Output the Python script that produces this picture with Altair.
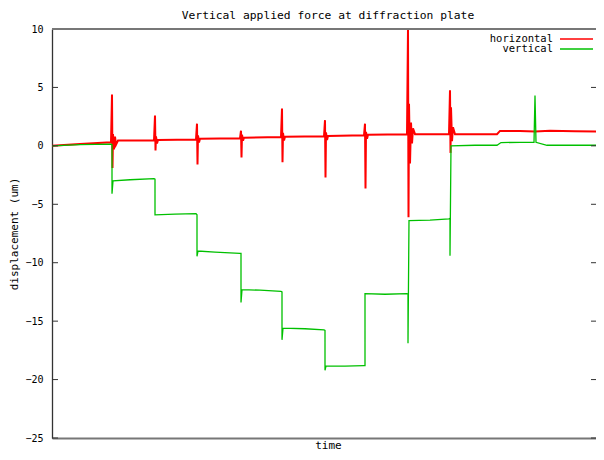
import altair as alt
import pandas as pd

# ---- data (time in arbitrary units, displacement in um) ----
series_names = ["horizontal", "vertical"]
series_colors = ["#ff0000", "#00c000"]

horiz_t = [0, 28, 59,
           60, 60.5, 61, 62, 63, 64, 66,
           102, 103, 103.5, 104, 105, 106,
           144, 145, 145.5, 146, 147, 148,
           188, 189, 189.5, 190, 191, 192,
           229, 230, 230.5, 231, 232, 233,
           272, 273, 273.5, 274, 275, 276,
           312, 313, 313.5, 314, 315, 316,
           355, 356, 356.5, 357, 358, 359, 360, 361, 363,
           397, 398, 398.5, 399, 400, 401, 403,
           445, 448, 468, 483, 498, 523, 553]
horiz_v = [0.0, 0.15, 0.3,
           4.4, -1.9, 1.0, -0.3, 0.8, 0.1, 0.45,
           0.45, 2.6, -0.4, 0.8, 0.2, 0.5,
           0.55, 1.9, -1.6, 0.9, 0.3, 0.6,
           0.65, 1.3, -1.0, 0.95, 0.45, 0.7,
           0.75, 3.2, -1.4, 1.1, 0.45, 0.78,
           0.82, 2.2, -2.7, 1.15, 0.5, 0.85,
           0.9, 1.9, -3.65, 1.2, 0.6, 0.95,
           1.0, 10.0, -6.1, 3.6, -1.5, 2.0, 0.2, 1.5, 1.0,
           1.0, 4.75, -0.6, 3.3, 0.4, 1.6, 1.0,
           1.0, 1.28, 1.28, 1.22, 1.3, 1.25, 1.22]

vert_t = [0, 28, 59, 60, 60, 61, 78, 102,
          103, 103, 123, 144,
          145, 145, 146, 163, 188,
          189, 189, 190, 208, 229,
          230, 230, 231, 253, 272,
          273, 273, 274, 293, 312,
          313, 313, 333, 355,
          356, 356, 357, 378, 397,
          398, 398, 399, 423, 445,
          449, 468, 482, 483, 484, 495, 553]
vert_v = [0.0, 0.1, 0.15, 0.1, -4.1, -3.0, -2.9, -2.8,
          -2.85, -5.9, -5.85, -5.8,
          -5.9, -9.45, -9.0, -9.1, -9.2,
          -9.2, -13.4, -12.3, -12.35, -12.45,
          -12.5, -16.6, -15.6, -15.65, -15.75,
          -15.8, -19.2, -18.85, -18.85, -18.8,
          -18.8, -12.65, -12.7, -12.65,
          -12.7, -16.9, -6.4, -6.35, -6.25,
          -6.2, -9.4, 0.0, 0.05, 0.05,
          0.28, 0.3, 0.3, 4.3, 0.3, 0.05, 0.05]

y_ticks = [-25, -20, -15, -10, -5, 0, 5, 10]

FONT = "DejaVu Sans Mono"
W, H = 544, 409

h_df = pd.DataFrame({"t": horiz_t, "value": horiz_v, "series": series_names[0]})
h_df["idx"] = range(len(h_df))
v_df = pd.DataFrame({"t": vert_t, "value": vert_v, "series": series_names[1]})
v_df["idx"] = range(len(v_df))

xscale = alt.Scale(domain=[0, W], nice=False, zero=False)
yscale = alt.Scale(domain=[-25, 10], nice=False, zero=False)
cscale = alt.Scale(domain=series_names, range=series_colors)

x_enc = alt.X("t:Q", scale=xscale,
              axis=alt.Axis(title="time", ticks=False, labels=False, grid=False,
                            domainColor="#777", domainWidth=2,
                            titleFont=FONT, titleFontSize=11, titleFontWeight="normal",
                            titleColor="#000", titlePadding=1,
                            titleX=276, titleAnchor="middle"))
y_enc = alt.Y("value:Q", scale=yscale,
              axis=alt.Axis(values=y_ticks, format="d", ticks=False, grid=False,
                            labelPadding=9, labelFont=FONT, labelFontSize=10,
                            labelColor="#000", domainColor="#333", domainWidth=1.3,
                            title="displacement (um)", titleFont=FONT, titleFontSize=11,
                            titleFontWeight="normal", titleColor="#000",
                            titleX=-44, titleY=H / 2, titleAngle=270,
                            titleBaseline="top"))

red = alt.Chart(h_df).mark_line(clip=True, strokeWidth=2).encode(
    x=x_enc, y=y_enc,
    color=alt.Color("series:N", scale=cscale, legend=None),
    order="idx:Q")
green = alt.Chart(v_df).mark_line(clip=True, strokeWidth=1.3).encode(
    x="t:Q", y="value:Q",
    color=alt.Color("series:N", scale=cscale, legend=None),
    order="idx:Q")

tick_df = pd.DataFrame({"v": y_ticks})
left_ticks = alt.Chart(tick_df).mark_rule(color="#333").encode(
    y="v:Q", x=alt.value(0), x2=alt.value(6))
right_ticks = alt.Chart(tick_df).mark_rule(color="#333").encode(
    y="v:Q", x=alt.value(W - 5), x2=alt.value(W))
top_border = alt.Chart(tick_df).mark_rule(color="#777", strokeWidth=2).encode(
    y=alt.datum(10))

legend_layers = []
for i, name in enumerate(series_names):
    ldf = pd.DataFrame({"series": [name]})
    legend_layers.append(
        alt.Chart(ldf).mark_text(align="right", baseline="middle", font=FONT,
                                 fontSize=10.5, color="#000").encode(
            text="series:N", x=alt.value(501), y=alt.value(10 + 10 * i)))
    legend_layers.append(
        alt.Chart(ldf).mark_rule(strokeWidth=1.3).encode(
            x=alt.value(508), x2=alt.value(541), y=alt.value(10 + 10 * i),
            color=alt.Color("series:N", scale=cscale, legend=None)))

chart = alt.layer(red, green, left_ticks, right_ticks, top_border, *legend_layers).properties(
    width=W, height=H,
    title=alt.TitleParams("Vertical applied force at diffraction plate", font=FONT,
                          fontSize=11.3, fontWeight="normal", color="#000",
                          anchor="middle", frame="group", dx=4, offset=3),
    autosize=alt.AutoSizeParams(type="none"),
    padding={"left": 44, "top": 21, "right": 0, "bottom": 12},
).configure_view(stroke=None).configure(background="white")

chart.save("out.html", embed_options={"renderer": "svg", "actions": False})
